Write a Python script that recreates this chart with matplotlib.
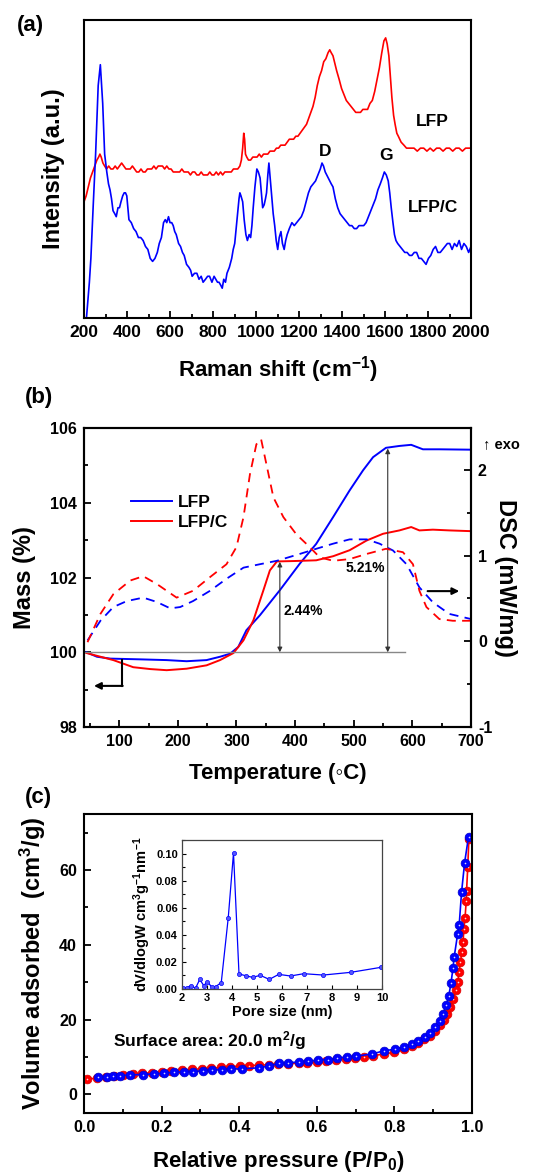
import matplotlib
matplotlib.use("Agg")
import matplotlib.pyplot as plt
from matplotlib.ticker import MultipleLocator

plt.rcParams['font.family'] = ['Liberation Sans', 'DejaVu Sans']
plt.rcParams['font.weight'] = 'bold'
plt.rcParams['axes.labelweight'] = 'bold'
plt.rcParams['axes.unicode_minus'] = False
plt.rcParams['mathtext.fontset'] = 'custom'
plt.rcParams['mathtext.rm'] = 'Liberation Sans:bold'
plt.rcParams['mathtext.bf'] = 'Liberation Sans:bold'
plt.rcParams['mathtext.it'] = 'Liberation Sans:bold'
plt.rcParams['mathtext.default'] = 'bf'

# ---------------- (a) Raman spectra ----------------
raman_lfpc = [
    (208, -3), (215, 3), (225, 12), (232, 20), (243, 38), (254, 55), (266, 78), (276, 85),
    (287, 72), (296, 55), (306, 49), (314, 45), (321, 43), (328, 40), (335, 36), (343, 35),
    (350, 34), (358, 37), (365, 37), (372, 39), (380, 41), (387, 42), (393, 42), (399, 41),
    (405, 36), (409, 33), (420, 32), (431, 30), (442, 29), (453, 27), (464, 27), (475, 26),
    (486, 24), (497, 23), (508, 20), (519, 19), (530, 20), (541, 22), (550, 25), (560, 27),
    (570, 32), (578, 33), (585, 32), (593, 34), (600, 32), (608, 32), (615, 31), (622, 29),
    (629, 28), (640, 25), (649, 24), (658, 22), (666, 21), (677, 18), (688, 17), (696, 16),
    (703, 14), (714, 15), (725, 15), (735, 13), (745, 14), (754, 12), (765, 13), (775, 14),
    (784, 14), (795, 12), (805, 14), (813, 13), (821, 12), (828, 12), (836, 11), (843, 10),
    (850, 13), (858, 12), (865, 15), (876, 17), (887, 20), (894, 23), (901, 25), (909, 31),
    (916, 36), (921, 40), (925, 42), (930, 41), (938, 39), (945, 33), (953, 28), (960, 26),
    (968, 28), (975, 27), (981, 31), (987, 37), (995, 44), (1004, 50), (1011, 49), (1019, 47),
    (1025, 42), (1031, 37), (1038, 38), (1044, 40), (1049, 42), (1055, 48), (1060, 52),
    (1066, 47), (1072, 42), (1080, 35), (1087, 31), (1094, 26), (1101, 23), (1108, 27),
    (1116, 29), (1123, 25), (1131, 23), (1138, 26), (1145, 28), (1155, 30), (1167, 32),
    (1178, 31), (1189, 32), (1200, 33), (1211, 34), (1222, 36), (1233, 39), (1244, 42),
    (1255, 44), (1266, 45), (1277, 46), (1288, 48), (1299, 50), (1307, 52), (1314, 51),
    (1322, 49), (1329, 48), (1336, 47), (1343, 46), (1350, 45), (1358, 44), (1369, 40),
    (1380, 37), (1391, 35), (1402, 34), (1413, 33), (1424, 32), (1435, 31), (1446, 31),
    (1457, 30), (1468, 30), (1479, 31), (1490, 31), (1501, 31), (1512, 32), (1523, 34),
    (1534, 36), (1545, 38), (1556, 40), (1567, 43), (1578, 45), (1588, 47), (1597, 49),
    (1606, 48), (1615, 46), (1622, 42), (1629, 37), (1637, 32), (1644, 28), (1651, 26),
    (1659, 25), (1670, 24), (1681, 23), (1692, 22), (1703, 22), (1714, 21), (1725, 21),
    (1736, 22), (1747, 22), (1758, 20), (1769, 20), (1780, 19), (1791, 18), (1802, 20),
    (1813, 21), (1824, 23), (1835, 24), (1846, 22), (1857, 22), (1868, 23), (1879, 24),
    (1890, 25), (1901, 25), (1912, 23), (1923, 25), (1934, 24), (1945, 26), (1956, 23),
    (1967, 25), (1978, 24), (1989, 22), (2000, 24),
]
raman_lfp = [
    (200, 39), (210, 41), (220, 44), (230, 47), (240, 49), (250, 51), (260, 53), (268, 54),
    (274, 55), (280, 54), (288, 52), (296, 51), (305, 50), (315, 51), (325, 50), (335, 50),
    (345, 51), (355, 50), (365, 51), (375, 52), (385, 51), (395, 50), (405, 50), (415, 50),
    (425, 51), (435, 50), (445, 49), (455, 49), (465, 50), (475, 49), (485, 49), (495, 50),
    (505, 50), (515, 50), (525, 51), (535, 50), (545, 51), (555, 51), (565, 51), (575, 50),
    (585, 51), (595, 50), (605, 50), (615, 49), (625, 49), (635, 49), (645, 49), (655, 50),
    (665, 49), (675, 49), (685, 49), (695, 48), (705, 49), (715, 49), (725, 48), (735, 48),
    (745, 49), (755, 48), (765, 48), (775, 48), (785, 49), (795, 48), (805, 48), (815, 49),
    (825, 48), (835, 49), (845, 48), (855, 49), (865, 49), (875, 49), (885, 49), (895, 50),
    (905, 50), (915, 50), (925, 51), (932, 53), (938, 57), (943, 62), (947, 60), (951, 55),
    (957, 54), (965, 53), (975, 53), (985, 54), (995, 54), (1005, 54), (1015, 55), (1025, 54),
    (1035, 55), (1045, 55), (1055, 55), (1065, 56), (1075, 56), (1085, 56), (1095, 57),
    (1105, 57), (1115, 58), (1125, 58), (1135, 58), (1145, 59), (1155, 60), (1165, 60),
    (1175, 60), (1185, 61), (1195, 61), (1205, 62), (1215, 63), (1225, 64), (1235, 65),
    (1245, 67), (1255, 69), (1265, 71), (1275, 74), (1285, 78), (1295, 81), (1305, 83),
    (1315, 86), (1325, 87), (1335, 89), (1343, 90), (1350, 89), (1358, 88), (1365, 86),
    (1375, 83), (1387, 80), (1398, 77), (1409, 75), (1420, 73), (1431, 72), (1442, 71),
    (1453, 70), (1464, 69), (1475, 69), (1486, 69), (1497, 70), (1508, 70), (1519, 70),
    (1530, 72), (1541, 73), (1552, 76), (1563, 80), (1574, 84), (1585, 89), (1595, 93),
    (1603, 94), (1610, 92), (1618, 88), (1625, 81), (1632, 74), (1640, 68), (1647, 65),
    (1655, 62), (1662, 61), (1675, 59), (1688, 58), (1700, 57), (1717, 57), (1735, 57),
    (1750, 56), (1765, 57), (1780, 57), (1795, 56), (1810, 57), (1825, 56), (1840, 57),
    (1855, 57), (1870, 56), (1885, 57), (1900, 57), (1915, 56), (1930, 57), (1945, 57),
    (1960, 56), (1975, 57), (1990, 57), (2000, 57),
]

# ---------------- (b) TG / DSC ----------------
tg_lfp_t = [44, 62, 85, 136, 181, 215, 249, 272, 289, 303, 317, 340, 374, 408, 436, 465,
            493, 516, 533, 555, 578, 598, 618, 646, 700]
tg_lfp_m = [100.0, 99.88, 99.83, 99.81, 99.79, 99.76, 99.79, 99.88, 99.96, 100.14, 100.59,
            100.99, 101.66, 102.37, 102.9, 103.62, 104.33, 104.87, 105.22, 105.47, 105.52,
            105.55, 105.43, 105.43, 105.42]
tg_lfpc_t = [44, 68, 90, 124, 153, 181, 215, 249, 272, 295, 312, 329, 346, 357, 369, 397,
             436, 465, 493, 522, 550, 578, 598, 612, 635, 663, 700]
tg_lfpc_m = [99.98, 99.88, 99.79, 99.6, 99.55, 99.52, 99.56, 99.65, 99.79, 99.98, 100.32,
             100.86, 101.66, 102.19, 102.43, 102.44, 102.46, 102.57, 102.73, 102.99, 103.17,
             103.26, 103.35, 103.26, 103.28, 103.26, 103.24]
dsc_lfp_t = [46, 68, 90, 113, 141, 164, 187, 204, 226, 255, 283, 312, 340, 369, 408, 436,
             465, 493, 522, 544, 567, 590, 612, 635, 663, 700]
dsc_lfp_v = [0.01, 0.24, 0.40, 0.47, 0.51, 0.46, 0.385, 0.40, 0.47, 0.59, 0.73, 0.86, 0.90,
             0.94, 1.02, 1.08, 1.14, 1.19, 1.19, 1.14, 1.06, 0.90, 0.63, 0.455, 0.32, 0.26]
dsc_lfpc_t = [46, 68, 90, 119, 141, 164, 198, 226, 255, 283, 300, 312, 323, 334, 342, 351,
              363, 380, 402, 425, 442, 465, 493, 522, 555, 584, 601, 612, 624, 646, 669, 700]
dsc_lfpc_v = [-0.01, 0.32, 0.55, 0.71, 0.76, 0.67, 0.51, 0.59, 0.75, 0.90, 1.10, 1.45, 1.95,
              2.30, 2.36, 2.07, 1.68, 1.45, 1.25, 1.10, 0.98, 0.94, 0.96, 1.02, 1.08, 1.04,
              0.90, 0.59, 0.40, 0.26, 0.24, 0.24]

# ---------------- (c) N2 isotherm ----------------
p_ads = [0.009, 0.034, 0.057, 0.078, 0.101, 0.126, 0.149, 0.175, 0.200, 0.225, 0.252, 0.278,
         0.304, 0.328, 0.353, 0.377, 0.402, 0.426, 0.451, 0.476, 0.501, 0.527, 0.553, 0.576,
         0.600, 0.624, 0.650, 0.674, 0.698, 0.721, 0.745, 0.772, 0.798, 0.824, 0.845, 0.862,
         0.877, 0.893, 0.905, 0.918, 0.927, 0.936, 0.944, 0.951, 0.958, 0.963, 0.967, 0.970,
         0.974, 0.977, 0.979, 0.982, 0.985, 0.986, 0.989, 0.992]
v_ads = [4.0, 4.4, 4.7, 5.0, 5.2, 5.4, 5.6, 5.8, 6.0, 6.2, 6.5, 6.7, 6.8, 7.0, 7.2, 7.4, 7.6,
         7.7, 7.8, 7.9, 8.1, 8.2, 8.3, 8.4, 8.6, 8.8, 9.2, 9.5, 9.7, 9.9, 10.3, 10.8, 11.2,
         12.0, 12.9, 13.8, 14.7, 15.6, 17.0, 18.5, 19.8, 21.6, 23.4, 25.6, 27.8, 30.0, 32.7,
         35.4, 38.0, 40.7, 44.3, 47.1, 51.6, 54.5, 60.7, 68.3]
p_des = [0.037, 0.058, 0.074, 0.093, 0.119, 0.151, 0.181, 0.205, 0.231, 0.257, 0.282, 0.306,
         0.330, 0.355, 0.380, 0.407, 0.452, 0.478, 0.502, 0.527, 0.553, 0.578, 0.603, 0.628,
         0.653, 0.678, 0.702, 0.742, 0.772, 0.802, 0.824, 0.845, 0.862, 0.880, 0.893, 0.905,
         0.917, 0.925, 0.934, 0.940, 0.946, 0.951, 0.954, 0.963, 0.967, 0.973, 0.981, 0.991]
v_des = [4.5, 4.7, 4.9, 5.0, 5.2, 5.3, 5.5, 5.6, 5.9, 6.0, 6.1, 6.3, 6.5, 6.6, 6.8, 6.8, 7.1,
         7.6, 8.3, 8.4, 8.7, 8.9, 9.1, 9.3, 9.7, 10.0, 10.2, 10.8, 11.6, 12.1, 12.7, 13.4, 14.3,
         15.4, 16.4, 18.0, 19.6, 21.6, 24.0, 26.3, 29.8, 33.8, 36.7, 42.9, 45.3, 54.0, 62.0,
         68.9]

pore_size = [2.04, 2.20, 2.36, 2.54, 2.71, 2.87, 3.01, 3.18, 3.34, 3.57, 3.85, 4.06, 4.28,
             4.55, 4.82, 5.13, 5.49, 5.87, 6.34, 6.87, 7.65, 8.75, 9.96]
pore_dv = [0.0010, 0.0010, 0.0025, 0.0005, 0.0071, 0.0025, 0.0054, 0.0017, 0.0017, 0.0047,
           0.0526, 0.1005, 0.0111, 0.0098, 0.0086, 0.0101, 0.0071, 0.0108, 0.0096, 0.0113,
           0.0103, 0.0123, 0.0160]

W, H = 551, 1175
fig = plt.figure(figsize=(W / 100, H / 100), dpi=100)


def box(x0, y0, x1, y1):
    return [x0 / W, 1 - y1 / H, (x1 - x0) / W, (y1 - y0) / H]


def style(ax, size=11.5):
    for s in ax.spines.values():
        s.set_linewidth(1.5)
    ax.tick_params(which='both', direction='in', labelsize=size, width=1.3, pad=5)
    ax.tick_params(which='major', length=5)
    ax.tick_params(which='minor', length=3)


# ---- panel (a)
ax = fig.add_axes(box(84, 20, 471, 318))
style(ax, 12.5)
ax.plot([p[0] for p in raman_lfp], [p[1] for p in raman_lfp], color='red', lw=1.2)
ax.plot([p[0] for p in raman_lfpc], [p[1] for p in raman_lfpc], color='blue', lw=1.2)
ax.set_xlim(200, 2000)
ax.set_ylim(0, 100)
ax.xaxis.set_major_locator(MultipleLocator(200))
ax.xaxis.set_minor_locator(MultipleLocator(100))
ax.set_yticks([])
ax.tick_params(axis='x', which='both', top=False)
ax.text(1820, 66, 'LFP', fontsize=12.5, ha='center', va='center')
ax.text(1825, 37, 'LFP/C', fontsize=12.5, ha='center', va='center')
ax.text(1322, 56, 'D', fontsize=12.5, ha='center', va='center')
ax.text(1604, 54.5, 'G', fontsize=12.5, ha='center', va='center')
ax.set_xlabel('Raman shift (cm$^{-1}$)', fontsize=16, labelpad=10)
ax.set_ylabel('Intensity (a.u.)', fontsize=17, labelpad=14)
fig.text(17 / W, 1 - 25 / H, '(a)', fontsize=16, va='center')

# ---- panel (b)
axb = fig.add_axes(box(84, 428, 471, 727))
style(axb)
axb.plot(tg_lfp_t, tg_lfp_m, color='blue', lw=1.4, label='LFP')
axb.plot(tg_lfpc_t, tg_lfpc_m, color='red', lw=1.4, label='LFP/C')
axb.set_xlim(40, 700)
axb.set_ylim(98, 106)
axb.xaxis.set_major_locator(MultipleLocator(100))
axb.xaxis.set_minor_locator(MultipleLocator(50))
axb.yaxis.set_major_locator(MultipleLocator(2))
axb.yaxis.set_minor_locator(MultipleLocator(1))
axb.tick_params(axis='x', which='both', top=False)
axb.tick_params(axis='y', which='both', right=False)
axb.plot([40, 588], [100, 100], color='#888888', lw=1)
axb.annotate('', xy=(374, 102.42), xytext=(374, 100.0),
             arrowprops=dict(arrowstyle='<|-|>', color='#333333', lw=0.8,
                             mutation_scale=7, shrinkA=0, shrinkB=0))
axb.annotate('', xy=(558, 105.45), xytext=(558, 100.0),
             arrowprops=dict(arrowstyle='<|-|>', color='#333333', lw=0.8,
                             mutation_scale=7, shrinkA=0, shrinkB=0))
axb.text(414, 101.1, '2.44%', fontsize=10, ha='center', va='center')
axb.text(519, 102.25, '5.21%', fontsize=10, ha='center', va='center')
axb.plot([105, 105], [99.78, 99.1], color='black', lw=1.5)
axb.annotate('', xy=(57, 99.1), xytext=(106, 99.1),
             arrowprops=dict(arrowstyle='-|>', color='black', lw=1.5,
                             mutation_scale=10, shrinkA=0, shrinkB=0))
axb.legend(loc='upper left', bbox_to_anchor=(0.08, 0.83), frameon=False,
           fontsize=12.5, handlelength=2.4, handletextpad=0.3, labelspacing=0.3)
axb.set_xlabel('Temperature (\u25e6C)', fontsize=16, labelpad=10)
axb.set_ylabel('Mass (%)', fontsize=17, labelpad=10)

ax2 = axb.twinx()
style(ax2)
ax2.plot(dsc_lfp_t, dsc_lfp_v, color='blue', lw=1.3, dashes=(5, 3.5))
ax2.plot(dsc_lfpc_t, dsc_lfpc_v, color='red', lw=1.3, dashes=(5, 3.5))
ax2.set_ylim(-1, 2.49)
ax2.yaxis.set_major_locator(MultipleLocator(1))
ax2.yaxis.set_minor_locator(MultipleLocator(0.5))
ax2.annotate('', xy=(680, 0.586), xytext=(626, 0.586),
             arrowprops=dict(arrowstyle='-|>', color='black', lw=1.5,
                             mutation_scale=10, shrinkA=0, shrinkB=0))
ax2.set_ylabel('DSC (mW/mg)', fontsize=17, rotation=270, labelpad=18)
fig.text(483 / W, 1 - 444 / H, '\u2191 exo', fontsize=10.5, va='center')
fig.text(25 / W, 1 - 398 / H, '(b)', fontsize=16, va='center')

# ---- panel (c)
axc = fig.add_axes(box(84, 814, 472, 1113))
style(axc)
axc.plot(p_ads, v_ads, '-o', color='red', lw=1.2, ms=6.3, mec='#dd0000', mew=0.5)
axc.plot(p_ads, v_ads, 'o', color='white', ms=1.2, mew=0, alpha=0.85)
axc.plot(p_des, v_des, '-o', color='blue', lw=1.2, ms=6.3, mec='#0000cc', mew=0.5)
axc.plot(p_des, v_des, 'o', color='white', ms=1.2, mew=0, alpha=0.85)
axc.set_xlim(0, 1.0)
axc.set_ylim(-5, 75)
axc.xaxis.set_major_locator(MultipleLocator(0.2))
axc.xaxis.set_minor_locator(MultipleLocator(0.1))
axc.yaxis.set_major_locator(MultipleLocator(20))
axc.yaxis.set_minor_locator(MultipleLocator(10))
axc.xaxis.set_major_formatter(plt.FormatStrFormatter('%.1f'))
axc.tick_params(axis='x', which='both', top=False)
axc.tick_params(axis='y', which='both', right=False)
axc.text(0.076, 14.5, 'Surface area: 20.0 m$^2$/g', fontsize=12.5, va='center')
axc.set_xlabel('Relative pressure (P/P$_0$)', fontsize=16, labelpad=10)
axc.set_ylabel('Volume adsorbed  (cm$^3$/g)', fontsize=17, labelpad=8)
fig.text(25 / W, 1 - 797 / H, '(c)', fontsize=16, va='center')

# inset pore size distribution
axi = fig.add_axes(box(182, 840, 382, 989))
for s in axi.spines.values():
    s.set_linewidth(0.9)
    s.set_color('#444444')
axi.tick_params(which='both', direction='in', labelsize=8, width=0.8, pad=3)
axi.tick_params(which='major', length=3)
axi.tick_params(which='minor', length=2)
axi.plot(pore_size, pore_dv, '-o', color='blue', lw=0.9, ms=3, mfc='#5555ff', mec='blue', mew=0.5)
axi.set_xlim(2, 10)
axi.set_ylim(0, 0.11)
axi.xaxis.set_major_locator(MultipleLocator(1))
axi.yaxis.set_major_locator(MultipleLocator(0.02))
axi.yaxis.set_minor_locator(MultipleLocator(0.01))
axi.yaxis.set_major_formatter(plt.FormatStrFormatter('%.2f'))
axi.tick_params(axis='x', which='both', top=False)
axi.tick_params(axis='y', which='both', right=False)
axi.set_xlabel('Pore size (nm)', fontsize=10.5, labelpad=1)
axi.set_ylabel('dV/dlogW cm$^3$g$^{-1}$nm$^{-1}$', fontsize=10.5, labelpad=2)

fig.savefig('out.png', dpi=100)
